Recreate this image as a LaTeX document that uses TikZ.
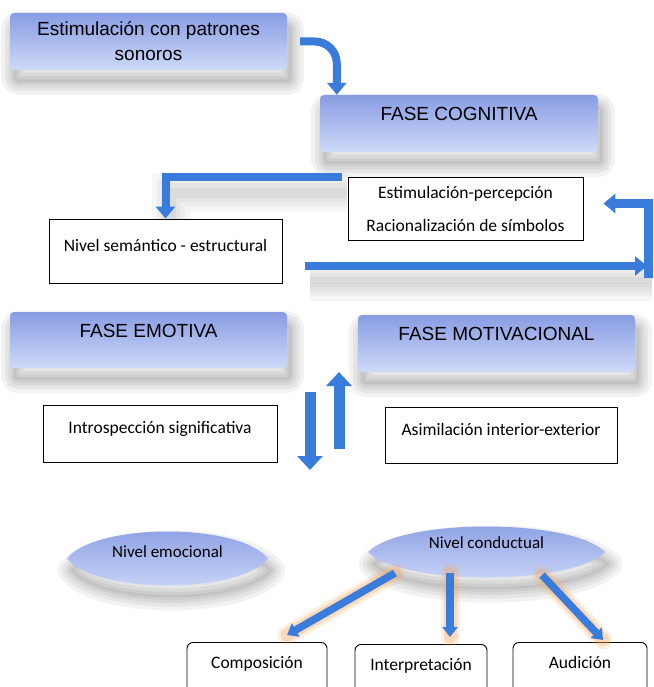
\documentclass[tikz,border=0pt]{standalone}
\usepackage{fontspec}
\usepackage{tikz}
\usetikzlibrary{arrows.meta,backgrounds}
\newfontfamily\arialf{Liberation Sans}
\newfontfamily\calib{Carlito}
\definecolor{fasetop}{RGB}{136,156,227}
\definecolor{fasebot}{RGB}{206,218,248}
\definecolor{azulflecha}{RGB}{58,124,220}
\definecolor{brillo}{RGB}{246,168,96}

\begin{document}
\begin{tikzpicture}[x=1pt, y=-1pt,
	capa/.style={preaction={draw=black, line width=#1, line join=round, opacity=.05, transform canvas={shift={(4pt,-12pt)}}}},
	sombra/.style={preaction={fill=black, opacity=.05, transform canvas={shift={(4pt,-12pt)}}}, capa=26pt, capa=18pt, capa=11pt, capa=5pt},
	fase/.style={sombra, rounded corners=4pt, top color=fasetop, bottom color=fasebot, minimum width=277pt, minimum height=57pt, align=center, font=\arialf\fontsize{19}{25}\selectfont},
	arriba/.style={text height=14pt, text depth=20pt},
	caja/.style={draw, fill=white, line width=0.9pt, align=center, font=\calib\fontsize{17.5}{33}\selectfont},
	linea/.style={caja, text height=12pt, text depth=12pt},
	hoja/.style={caja, rounded corners=6pt, anchor=north, inner ysep=8pt, text height=18pt, text depth=40pt},
	lente/.style={sombra, top color=fasetop, bottom color=fasebot},
	nivel/.style={font=\calib\fontsize{17}{20}\selectfont, text height=12pt},
	flecha/.style={draw=azulflecha, line width=8pt, -{Triangle[width=19pt,length=12pt]}},
	capaf/.style={preaction={draw=black, line width=#1, opacity=.035, transform canvas={shift={(5pt,-16pt)}}}},
	sombraflecha/.style={capaf=38pt, capaf=28pt, capaf=19pt, capaf=10pt},
	gruesa/.style={flecha, line width=11pt, -{Triangle[width=25pt,length=14pt]}},
	brillante/.style={flecha, line width=7.5pt, -{Triangle[width=15pt,length=10pt]},
		preaction={draw=brillo, line width=19pt, opacity=.18, line cap=round, -},
		preaction={draw=brillo, line width=13pt, opacity=.3, line cap=round, -}},
]
	%\draw[help lines] (0,0) grid[step=50] (653,687);
	\useasboundingbox (0,0) rectangle (653,687);
	\clip (0,0) rectangle (653,687);

	\node[fase] (estim) at (148.5,41.5) {Estimulación con patrones\\sonoros};
	\node[fase, arriba, minimum width=278pt] (cogn) at (459,123.5) {FASE COGNITIVA};
	\node[linea, minimum width=233pt, minimum height=64pt] (sem) at (165.5,251) {Nivel semántico - estructural};
	\node[caja, minimum width=235pt, minimum height=63pt] (perc) at (465.5,208.5) {Estimulación-percepción\\Racionalización de símbolos};
	\node[fase, arriba, minimum height=56pt] (emot) at (148.5,340) {FASE EMOTIVA};
	\node[fase, arriba] (motiv) at (496.5,343.5) {FASE MOTIVACIONAL};
	\node[linea, minimum width=234pt, minimum height=57pt] (intro) at (160,433.5) {Introspección significativa};
	\node[linea, minimum width=232pt, minimum height=56pt] (asim) at (501,435) {Asimilación interior-exterior};

	\coordinate (emoC) at (167.5,558.5);
	\coordinate (condC) at (486.5,552);
	\path[lente, shift={(emoC)}] (-100.5,0) .. controls (-72,-36) and (72,-36) .. (100.5,0) .. controls (72,36) and (-72,36) .. (-100.5,0) -- cycle;
	\path[lente, shift={(condC)}] (-118.5,0) .. controls (-85,-34) and (85,-34) .. (118.5,0) .. controls (85,34) and (-85,34) .. (-118.5,0) -- cycle;
	\node[nivel, text depth=14pt] (emo) at (emoC) {Nivel emocional};
	\node[nivel, text depth=19pt] (cond) at (condC) {Nivel conductual};

	\node[hoja, minimum width=140pt] (comp) at (257,642) {Composición};
	\node[hoja, minimum width=132pt] (interp) at (421,644) {Interpretación};
	\node[hoja, minimum width=134pt] (aud) at (580,642) {Audición};

	% conectores
	\coordinate (abajo) at (648,278);
	\coordinate (der) at (647,266);
	\draw[flecha, rounded corners=22pt] ([xshift=13pt]estim.east) -| ([xshift=17pt]cogn.north west);
	\draw[flecha] ([xshift=-6pt]perc.north west) -| (sem.north);
	\draw[flecha, line width=9pt] (abajo) |- ([xshift=20pt,yshift=5pt]perc.east);
	\draw[flecha] ([xshift=23pt,yshift=-15pt]sem.east) -- (der);

	\coordinate (bajaA) at (310,392);
	\coordinate (bajaB) at (310,470);
	\coordinate (subeA) at (339,449);
	\coordinate (subeB) at (339,372);
	\draw[gruesa] (bajaA) -- (bajaB);
	\draw[gruesa] (subeA) -- (subeB);

	\draw[brillante] ([xshift=-91.5pt,yshift=-21pt]cond.center) -- ([xshift=30pt,yshift=7pt]comp.north);
	\draw[brillante] ([xshift=-36.5pt,yshift=-21pt]cond.center) -- ([xshift=29pt,yshift=7pt]interp.north);
	\draw[brillante] ([xshift=55.5pt,yshift=-23pt]cond.center) -- ([xshift=23pt,yshift=2pt]aud.north);

	\begin{pgfonlayer}{background}
		\fill[white] (0,0) rectangle (653,687);
		\path[sombraflecha] ([xshift=-6pt]perc.north west) -| (sem.north);
		\path[sombraflecha] ([xshift=23pt,yshift=-15pt]sem.east) -- (der);
	\end{pgfonlayer}
\end{tikzpicture}
\end{document}
